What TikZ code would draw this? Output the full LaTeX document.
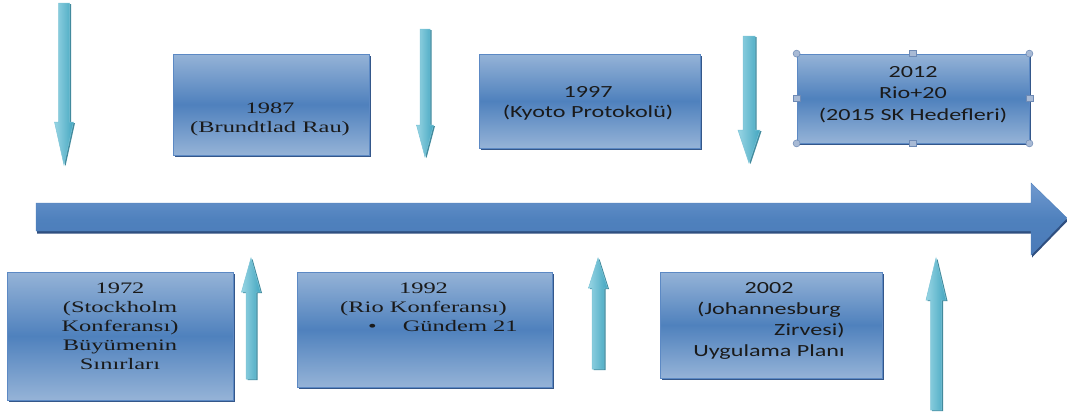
\documentclass[tikz,border=0pt]{standalone}
\usepackage{fontspec}
\usepackage{graphicx}
\setmainfont{Liberation Serif}
\newfontfamily\calw{Carlito}
\usetikzlibrary{shadows}
\definecolor{boxlight}{HTML}{95B3D7}
\definecolor{boxmid}{HTML}{4F81BD}
\definecolor{boxborder}{HTML}{5C89C4}
\definecolor{boxshadow}{HTML}{34578A}
\definecolor{arrtop}{HTML}{7099CF}
\definecolor{arrbot}{HTML}{4A7AB8}
\definecolor{arrshadow}{HTML}{2F4F80}
\definecolor{cyanlight}{HTML}{98D5E4}
\definecolor{cyanmid}{HTML}{43A6C0}
\definecolor{cyanedge}{HTML}{7CC4D7}
\definecolor{cyanshadow}{HTML}{2D7D92}
\definecolor{handlefill}{HTML}{A8BAD5}
\definecolor{handledraw}{HTML}{6E8AB5}
\definecolor{textcol}{HTML}{1A1A1A}
\newcommand{\tlvarrow}[6]{%
  \path[tlarrow] ({#1-#5},#2) -- ({#1+#5},#2) -- ({#1+#5},#3) -- ({#1+#6},#3)
    -- (#1,#4) -- ({#1-#6},#3) -- ({#1-#5},#3) -- cycle;}
\newcommand{\romw}[1]{\scalebox{1.53}[1]{\begin{tabular}{@{}c@{}}#1\end{tabular}}}
\newcommand{\calwide}[1]{\scalebox{1.42}[1]{\begin{tabular}{@{}c@{}}#1\end{tabular}}}
\begin{document}
\begin{tikzpicture}[x=1pt,y=-1pt,
  box/.style={rectangle, inner sep=0pt, draw=boxborder, line width=0.8pt,
    top color=boxlight, bottom color=boxlight, middle color=boxmid,
    drop shadow={shadow xshift=2pt, shadow yshift=-2pt, fill=boxshadow, opacity=1}},
  txt/.style={inner sep=0pt, text=textcol},
  romtext/.style={txt, font=\rmfamily\fontsize{16}{19}\selectfont},
  caltext/.style={txt, font=\calw\fontsize{17}{#1}\selectfont},
  tlarrow/.style={left color=cyanlight, right color=cyanmid, draw=cyanedge, line width=0.5pt,
    drop shadow={shadow xshift=1.5pt, shadow yshift=-1pt, fill=cyanshadow, opacity=0.9}},
  bigarrow/.style={top color=arrtop, bottom color=arrbot, middle color=boxmid,
    draw=boxmid, line width=0.4pt,
    drop shadow={shadow xshift=1pt, shadow yshift=-2.5pt, fill=arrshadow, opacity=1}},
  handlec/.style={circle, inner sep=0pt, minimum size=7pt, fill=handlefill, draw=handledraw, line width=0.5pt},
  handles/.style={rectangle, inner sep=0pt, minimum width=7pt, minimum height=6pt, fill=handlefill, draw=handledraw, line width=0.5pt}
]
\useasboundingbox (0,0) rectangle (1067,416);

% timeline arrow
\path[bigarrow] (36,203) -- (1031,203) -- (1031,183) -- (1067,218) -- (1031,255)
  -- (1031,231) -- (36,231) -- cycle;

% down arrows
\tlvarrow{64}{3}{122}{165}{5.5}{9.5}
\tlvarrow{425}{29}{125}{157}{5}{8.5}
\tlvarrow{749}{36}{130}{163}{6}{11}
% up arrows
\tlvarrow{251}{379}{292}{258}{5}{9.5}
\tlvarrow{598}{369}{288}{258}{6}{9.5}
\tlvarrow{936}{410}{300}{258}{5.5}{10}

% boxes
\node[box, minimum width=196pt, minimum height=101pt] (b1987) at (271,104.5) {};
\node[box, minimum width=221pt, minimum height=94pt] (b1997) at (589.5,101) {};
\node[box, minimum width=232pt, minimum height=89pt] (b2012) at (913,98.5) {};
\node[box, minimum width=226pt, minimum height=128pt] (b1972) at (120,336) {};
\node[box, minimum width=255pt, minimum height=115pt] (b1992) at (424.5,329.5) {};
\node[box, minimum width=222pt, minimum height=106pt] (b2002) at (771,325) {};

% texts
\node[romtext] (t1987) at (270,118.7) {\romw{1987\\(Brundtlad Rau)}};
\node[romtext] (t1972) at (120,327.2) {\romw{1972\\(Stockholm\\Konferansı)\\Büyümenin\\Sınırları}};
\node[romtext] (t1992) at (423.5,308.2) {\romw{1992\\(Rio Konferansı)\\\multicolumn{1}{@{}l@{}}{\hspace*{18.3pt}\makebox[0pt][l]{•\hspace{17pt}Gündem 21}}}};
\node[caltext=20] (t1997) at (588,103) {\calwide{1997\\(Kyoto Protokolü)}};
\node[caltext=21.5] (t2012) at (913,94.2) {\calwide{2012\\Rio+20\\(2015 SK Hedefleri)}};
\node[caltext=21] (t2002) at (769,320.3) {\calwide{2002\\(Johannesburg\\\multicolumn{1}{@{}r@{}}{Zirvesi)}\\Uygulama Planı}};

% selection handles on the 2012 box
\node[handlec] (hnw) at (b2012.north west) {};
\node[handlec] (hne) at (b2012.north east) {};
\node[handlec] (hsw) at (b2012.south west) {};
\node[handlec] (hse) at (b2012.south east) {};
\node[handles] (hn) at (b2012.north) {};
\node[handles] (hs) at (b2012.south) {};
\node[handles] (hw) at (b2012.west) {};
\node[handles] (he) at (b2012.east) {};
\end{tikzpicture}
\end{document}
